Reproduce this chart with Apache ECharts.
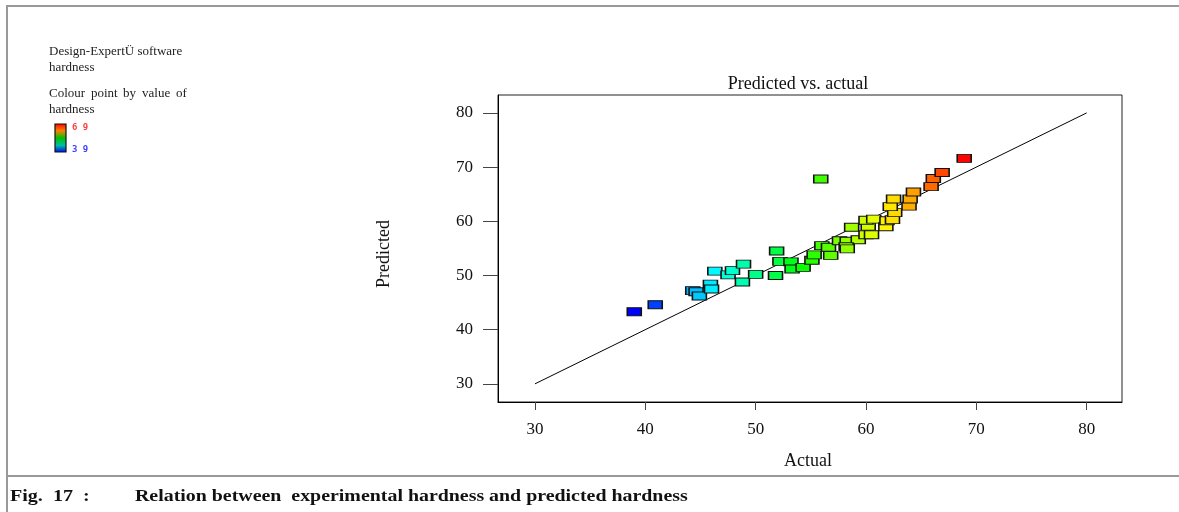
<!DOCTYPE html>
<html>
<head>
<meta charset="utf-8">
<script src="https://cdn.jsdelivr.net/npm/echarts@6/dist/echarts.min.js"></script>
<style>
  html, body { margin: 0; padding: 0; background: #fff; }
  #chart { width: 1179px; height: 512px; }
</style>
</head>
<body>
<div id="chart"></div>
<script>
// Observed (actual) hardness of each run
const actual = [
  39.0, 40.9, 44.3, 44.6, 44.9, 45.9, 46.0, 46.3, 47.5, 47.9,
  48.9, 48.8, 50.0, 51.8, 51.9, 52.2, 53.2, 53.3, 54.3, 55.1,
  55.3, 56.8, 56.0, 56.6, 57.6, 58.3, 59.3, 58.2, 58.3, 58.7,
  60.0, 60.5, 60.2, 60.0, 60.7, 61.8, 61.9, 62.4, 62.6, 62.2,
  62.5, 63.9, 64.0, 64.3, 65.9, 66.1, 66.9, 68.9, 55.9
];
// Model-predicted hardness for the same runs
const predicted = [
  43.3, 44.6, 47.2, 47.0, 46.2, 48.4, 47.5, 50.8, 50.1, 50.9,
  52.1, 48.8, 50.2, 50.0, 54.5, 52.6, 52.5, 51.2, 51.5, 52.8,
  53.8, 53.7, 55.5, 55.2, 56.4, 56.3, 56.6, 55.3, 54.9, 58.9,
  57.5, 57.5, 59.1, 60.2, 60.4, 59.0, 60.1, 60.3, 61.6, 62.7,
  64.1, 62.8, 64.1, 65.4, 66.4, 67.9, 69.0, 71.6, 67.8
];
// Axis tick values on both axes
const tickValues = [30, 40, 50, 60, 70, 80];
// Ends of the y = x reference line
const identityLine = [[30, 30], [80, 80]];
// Colour-scale range for hardness
const hardnessRange = [39, 69];

const points = actual.map((a, i) => [a, predicted[i]]);
const serif = '"Liberation Serif", "Times New Roman", serif';
const rampColours = ['#0000ff', '#00ffff', '#00ff00', '#ffff00', '#ff0000'];

const chart = echarts.init(document.getElementById('chart'), null, { renderer: 'canvas' });

const axisCommon = {
  type: 'value',
  splitLine: { show: false },
  axisLine: { show: true, onZero: false, lineStyle: { color: '#000', width: 1 } },
  axisLabel: {
    customValues: tickValues,
    fontFamily: serif,
    fontSize: 17,
    color: '#111'
  }
};

const noteFont = '13px ' + serif;
const noteText = (x, y, text) => ({
  type: 'text', x: x, y: y,
  style: { text: text, font: noteFont, fill: '#222', verticalAlign: 'middle' }
});

chart.setOption({
  animation: false,
  backgroundColor: '#fff',
  grid: {
    left: 498, right: 57, top: 95, bottom: 110,
    show: true, borderColor: '#222', borderWidth: 1, backgroundColor: 'transparent'
  },
  xAxis: Object.assign({}, axisCommon, {
    min: 26.65, max: 83.2,
    axisTick: { customValues: tickValues, length: 8, lineStyle: { color: '#444' } },
    axisLabel: Object.assign({}, axisCommon.axisLabel, { margin: 19 })
  }),
  yAxis: Object.assign({}, axisCommon, {
    min: 26.65, max: 83.3,
    axisTick: { customValues: tickValues, length: 15, lineStyle: { color: '#444' } },
    axisLabel: Object.assign({}, axisCommon.axisLabel, { margin: 25 })
  }),
  visualMap: {
    show: false,
    type: 'continuous',
    seriesIndex: 1,
    dimension: 0,
    min: hardnessRange[0],
    max: hardnessRange[1],
    inRange: { color: rampColours }
  },
  series: [
    {
      type: 'line',
      data: identityLine,
      symbol: 'none',
      silent: true,
      z: 1,
      lineStyle: { color: '#000', width: 1 }
    },
    {
      type: 'scatter',
      data: points,
      symbol: 'rect',
      symbolSize: [14, 8],
      z: 2,
      itemStyle: { borderColor: '#111', borderWidth: 1.2, opacity: 1 }
    }
  ],
  graphic: [
    // outer figure frame
    { type: 'line', shape: { x1: 7, y1: 6, x2: 1179, y2: 6 }, style: { stroke: '#999', lineWidth: 2 } },
    { type: 'line', shape: { x1: 7, y1: 5, x2: 7, y2: 512 }, style: { stroke: '#999', lineWidth: 2 } },
    { type: 'line', shape: { x1: 7, y1: 476, x2: 1179, y2: 476 }, style: { stroke: '#999', lineWidth: 2 } },

    // software note and colour key
    noteText(49, 52, 'Design-ExpertÜ software'),
    noteText(49, 68, 'hardness'),
    noteText(49, 94, 'Colour'),
    noteText(91, 94, 'point'),
    noteText(123, 94, 'by'),
    noteText(142, 94, 'value'),
    noteText(176, 94, 'of'),
    noteText(49, 110, 'hardness'),
    {
      type: 'rect',
      shape: { x: 55, y: 124, width: 11, height: 28 },
      style: {
        stroke: '#111', lineWidth: 1.2,
        fill: new echarts.graphic.LinearGradient(0, 0, 0, 1, [
          { offset: 0, color: '#ff0000' },
          { offset: 0.25, color: '#ff8000' },
          { offset: 0.5, color: '#00c000' },
          { offset: 0.75, color: '#00c0a0' },
          { offset: 1, color: '#0000ff' }
        ])
      }
    },
    { type: 'text', x: 72, y: 128, style: { text: String(hardnessRange[1]).split('').join(' '), font: 'bold 9px "DejaVu Sans Mono", monospace', fill: '#ff4040', verticalAlign: 'middle' } },
    { type: 'text', x: 72, y: 150, style: { text: String(hardnessRange[0]).split('').join(' '), font: 'bold 9px "DejaVu Sans Mono", monospace', fill: '#4040ff', verticalAlign: 'middle' } },

    // plot title and axis names
    { type: 'text', x: 798, y: 84, style: { text: 'Predicted vs. actual', font: '18px ' + serif, fill: '#111', align: 'center', verticalAlign: 'middle' } },
    { type: 'text', x: 808, y: 461, style: { text: 'Actual', font: '18px ' + serif, fill: '#111', align: 'center', verticalAlign: 'middle' } },
    { type: 'text', x: 384, y: 254, rotation: Math.PI / 2, style: { text: 'Predicted', font: '18px ' + serif, fill: '#111', align: 'center', verticalAlign: 'middle' } },

    // figure caption
    { type: 'text', x: 10, y: 497, scaleX: 1.18, style: { text: 'Fig.  17  :', font: 'bold 17px ' + serif, fill: '#111', verticalAlign: 'middle' } },
    { type: 'text', x: 135, y: 497, scaleX: 1.17, style: { text: 'Relation between  experimental hardness and predicted hardness', font: 'bold 17px ' + serif, fill: '#111', verticalAlign: 'middle' } }
  ]
});
</script>
</body>
</html>
